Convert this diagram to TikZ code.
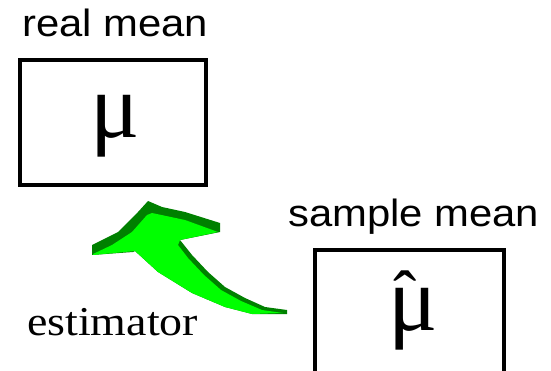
\documentclass[tikz,border=0pt]{standalone}
\usepackage{fontspec}
\setmainfont{Liberation Serif}
\newfontfamily\labelsans[FakeStretch=1.1]{Liberation Sans}
\newfontfamily\labelserif[FakeStretch=1.12]{Liberation Serif}
\newfontfamily\greekserif{Liberation Serif}
\definecolor{arrowlight}{RGB}{0,255,0}
\definecolor{arrowdark}{RGB}{0,128,0}
\tikzset{
  meanbox/.style={draw=black, line width=4pt, inner sep=0pt},
  sanslabel/.style={font=\labelsans\fontsize{38}{38}\selectfont, inner sep=0pt, anchor=base west},
  seriflabel/.style={font=\labelserif\fontsize{41}{41}\selectfont, inner sep=0pt, anchor=base west},
  symbol/.style={font=\greekserif\fontsize{92}{92}\selectfont, inner sep=0pt, anchor=base},
  arrowback/.style={fill=arrowdark, draw=none},
  arrowfront/.style={fill=arrowlight, draw=none}
}
\begin{document}
\begin{tikzpicture}[x=1pt, y=-1pt]
\clip (0,0) rectangle (551,371);
% boxes
\node[meanbox, minimum width=186pt, minimum height=125pt] (realbox) at (113,122.5) {};
\node[meanbox, minimum width=189pt, minimum height=140pt] (samplebox) at (409.5,320) {};
% labels
\node[sanslabel] (reallabel) at (22,37) {real mean};
\node[sanslabel] (samplelabel) at (288,227) {sample mean};
\node[seriflabel] (estlabel) at (27,335) {estimator};
% symbols
\node[symbol] (mu) at (115,138) {μ};
\node[symbol] (muhat) at (413,330) {\makebox[0pt][l]{\kern 5pt\raisebox{11pt}{\fontsize{70}{70}\selectfont ˆ}}μ};
% curved 3D arrow
\fill[arrowback] (92,255) -- (92,245) -- (102,240) -- (118,232) -- (135,215) -- (138,212) -- (148,201)
  -- (162,207) -- (185,212) -- (220,223) -- (220,232) -- (180,240) -- (192,255) -- (208,272)
  -- (225,287) -- (245,298) -- (265,307) -- (287,310) -- (287,314) -- (252,314) -- (225,307)
  -- (192,293) -- (158,272) -- (135,251) -- (133,252) -- cycle;
\fill[arrowfront] (93,254) -- (112,245) -- (132,232) -- (147,215) -- (152,213) -- (185,220)
  -- (218,232) -- (180,240) -- (178,245) -- (188,258) -- (204,275) -- (221,290) -- (241,301)
  -- (262,310) -- (283,313) -- (252,314) -- (225,307) -- (192,293) -- (158,272) -- (135,251)
  -- (93,255) -- cycle;
\end{tikzpicture}
\end{document}
